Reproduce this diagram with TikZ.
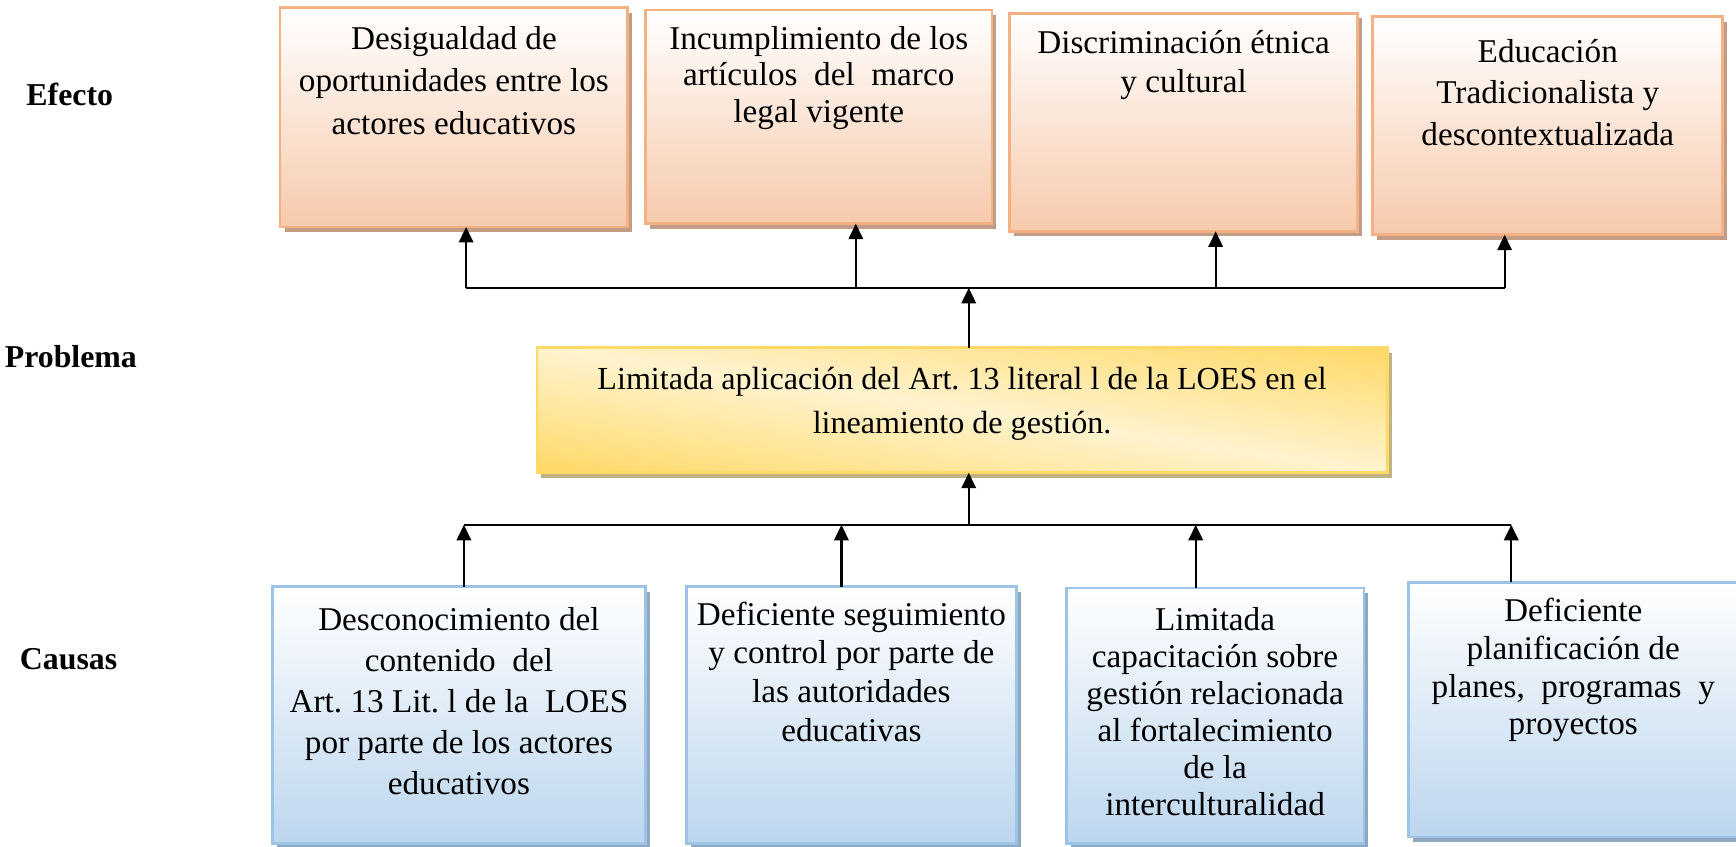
\documentclass[tikz,border=0pt]{standalone}
\usepackage{fontspec}
\setmainfont{Liberation Serif}
\frenchspacing
\usetikzlibrary{arrows.meta, shadows}
\usetikzlibrary{calc, positioning}

\definecolor{effect-line}{HTML}{F4B183}
\definecolor{effect-fill}{HTML}{F7CAAC}
\definecolor{effect-shade}{HTML}{C29C84}
\definecolor{cause-line}{HTML}{9DC3E6}
\definecolor{cause-fill}{HTML}{BCD6EE}
\definecolor{cause-shade}{HTML}{8EA8C2}
\definecolor{prob-gold}{HTML}{FFD966}
\definecolor{prob-cream}{HTML}{FFF3CF}
\definecolor{prob-shade}{HTML}{BFB285}

\tikzset{
  size/.style 2 args={minimum width=#1*0.4pt, minimum height=#2*0.4pt, inner sep=0pt, outer sep=0pt},
  effect/.style={draw=effect-line, line width=1pt, top color=white, bottom color=effect-fill,
    drop shadow={shadow xshift=1.6pt, shadow yshift=-1.8pt, fill=effect-shade, opacity=1}},
  cause/.style={draw=cause-line, line width=1pt, top color=white, bottom color=cause-fill,
    drop shadow={shadow xshift=1.6pt, shadow yshift=-1.8pt, fill=cause-shade, opacity=1}},
  problem/.style={draw=prob-gold, line width=1pt, fill=prob-cream,
    drop shadow={shadow xshift=1.6pt, shadow yshift=-1.8pt, fill=prob-shade, opacity=1}},
  txt/.style={font=\fontsize{12}{#1}\selectfont, align=center, inner sep=0pt},
  side/.style={font=\fontsize{11.5}{14}\selectfont\bfseries},
  bus/.style={line width=0.8pt},
  arr/.style={line width=0.8pt, -{Triangle[length=5.6pt, width=5.2pt]}},
}

\begin{document}
\begin{tikzpicture}[x=0.4pt, y=-0.4pt]

  \useasboundingbox (0,0) rectangle (1568,765);

  % row names
  \node[side] (lbl-effect)  at (63,85)  {Efecto};
  \node[side] (lbl-problem) at (64,322) {Problema};
  \node[side] (lbl-cause)   at (62,595) {Causas};

  % effects
  \node[effect, size={314}{198}] (e1) at (410,106)    {};
  \node[effect, size={313}{193}] (e2) at (739.5,105.5) {};
  \node[effect, size={314}{197}] (e3) at (1069,110.5)  {};
  \node[effect, size={316}{197}] (e4) at (1398,113.5)  {};

  \node[txt=15.4pt, below=6.4pt of e1.north] (e1-text) {Desigualdad de\\oportunidades entre los\\actores educativos};
  \node[txt=13.2pt, below=5.6pt of e2.north] (e2-text) {Incumplimiento de los\\art\'iculos\ \ del\ \ marco\\legal vigente};
  \node[txt=14pt,   below=6pt of e3.north]   (e3-text) {Discriminaci\'on \'etnica\\y cultural};
  \node[txt=15pt,   below=8pt of e4.north]   (e4-text) {Educaci\'on\\Tradicionalista y\\descontextualizada};

  % problem
  \node[problem, size={768}{113}] (p) at (869,370.5) {};
  % diagonal gold/cream shading, gold in the lower left and upper right corners
  \begin{scope}[shift={(p.south west)}, x={(768*0.4pt,0)}, y={(0,113*0.4pt)}]
    \clip (0,0) rectangle (1,1);
    \foreach \i in {0,...,59} {
      \pgfmathsetmacro\ca{\i/30}
      \pgfmathsetmacro\cb{(\i+1.2)/30}
      \pgfmathsetmacro\mix{abs(1-(\i+0.5)/30)*100}
      \fill[prob-gold!\mix!prob-cream] (\ca,0) -- (\cb,0) -- (\cb-1,1) -- (\ca-1,1) -- cycle;
    }
  \end{scope}
  \draw[prob-gold, line width=1pt] (p.south west) rectangle (p.north east);
  \node[txt=16pt, font=\fontsize{11.6}{16}\selectfont, below=6.8pt of p.north] (p-text) {Limitada aplicaci\'on del Art. 13 literal l de la LOES en el\\lineamiento de gesti\'on.};

  % causes
  \node[cause, size={337}{232}] (c1) at (414.5,646) {};
  \node[cause, size={298}{232}] (c2) at (769,646)   {};
  \node[cause, size={269}{231}] (c3) at (1097.5,646.5) {};
  \node[cause, size={298}{230}] (c4) at (1421,641)  {};

  \node[txt=14.8pt, below=7.2pt of c1.north] (c1-text) {Desconocimiento del\\contenido\ \ del\\Art. 13 Lit. l de la\ \ LOES\\por parte de los actores\\educativos};
  \node[txt=14pt,   below=5.2pt of c2.north] (c2-text) {Deficiente seguimiento\\y control por parte de\\las autoridades\\educativas};
  \node[txt=13.4pt, below=6.8pt of c3.north] (c3-text) {Limitada\\capacitaci\'on sobre\\gesti\'on relacionada\\al fortalecimiento\\de la\\interculturalidad};
  \node[txt=13.6pt, below=5.6pt of c4.north] (c4-text) {Deficiente\\planificaci\'on de\\planes,\ \ programas\ \ y\\proyectos};

  % effect bus
  \coordinate (top-l) at (421,260);
  \coordinate (top-r) at (1359,260);
  \coordinate (top-2) at (773,260);
  \coordinate (top-3) at (1098,260);
  \coordinate (top-c) at (875,260);
  \draw[bus] (top-l) to (top-r);
  \draw[arr] (top-l) to (top-l |- e1.south);
  \draw[arr] (top-2) to (top-2 |- e2.south);
  \draw[arr] (top-3) to (top-3 |- e3.south);
  \draw[arr] (top-r) to (top-r |- e4.south);
  \draw[arr] (top-c |- p.north) to (top-c);

  % cause bus
  \coordinate (low-l) at (419,474);
  \coordinate (low-r) at (1365,474);
  \coordinate (low-2) at (760,474);
  \coordinate (low-3) at (1080,474);
  \coordinate (low-c) at (875,474);
  \draw[bus] (low-l) to (low-r);
  \draw[arr] (low-l |- c1.north) to (low-l);
  \draw[arr] (low-2 |- c2.north) to (low-2);
  \draw[arr] (low-3 |- c3.north) to (low-3);
  \draw[arr] (low-r |- c4.north) to (low-r);
  \draw[arr] (low-c) to (low-c |- p.south);

\end{tikzpicture}
\end{document}
